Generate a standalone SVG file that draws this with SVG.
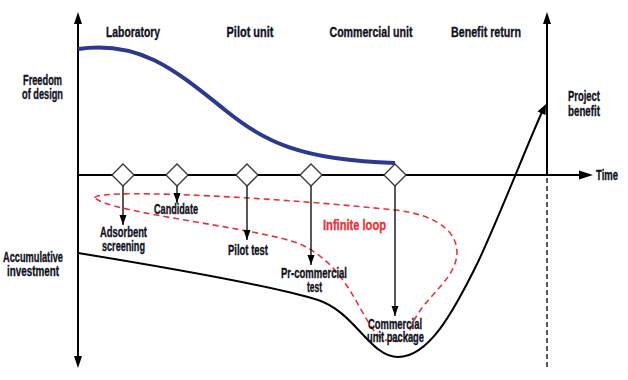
<svg xmlns="http://www.w3.org/2000/svg" width="628" height="380" viewBox="0 0 628 380">
  <style>
    text { font-family: "Liberation Sans", Arial, sans-serif; font-weight: bold; font-size: 15px; fill: #111122; stroke: #111122; stroke-width: 0.35; }
    .m { text-anchor: middle; }
    .red { fill: #e8323a; stroke: #e8323a; }
    .axis { stroke: #000; stroke-width: 2; fill: none; }
    .drop { stroke: #000; stroke-width: 1.3; fill: none; marker-end: url(#ah); }
    .dia { fill: #fff; stroke: #333; stroke-width: 1.3; }
  </style>
  <defs>
    <marker id="ah" viewBox="0 0 10 10" refX="10" refY="5" markerWidth="10" markerHeight="10" markerUnits="userSpaceOnUse" orient="auto">
      <path d="M0,1.5 L10,5 L0,8.5 Z" fill="#000"/>
    </marker>
  </defs>

  <g id="connectors">
    <line class="axis" x1="78" y1="22" x2="78" y2="357"/>
    <path d="M78,12 L74,24 L82,24 Z" fill="#000"/>
    <path d="M78,368 L74,356 L82,356 Z" fill="#000"/>
    <line class="axis" x1="78" y1="175" x2="582" y2="175"/>
    <path d="M593,175 L579,170.5 L579,179.5 Z" fill="#000"/>
    <line class="axis" x1="547" y1="22" x2="547" y2="175" stroke-width="1.5"/>
    <path d="M547,12 L543,24 L551,24 Z" fill="#000"/>
    <line x1="547" y1="178" x2="547" y2="368" stroke="#000" stroke-width="1.3" stroke-dasharray="5,3"/>

    <path d="M78,49 C140,40 175,70 225,110 C265,142 300,160 395,163" fill="none" stroke="#2b3990" stroke-width="4"/>

    <path d="M78,253 C170,268 270,285 318,300 C355,312 370,357 398,357 C428,357 452,315 478,262 C500,215 525,150 542,112" fill="none" stroke="#000" stroke-width="2"/>
    <path d="M546,104 L537.5,111.5 L545.5,115 Z" fill="#000"/>

    <path d="M95,198 C92,189 250,195 395,210 C440,215 462,235 456,260 C450,285 420,300 410,330 C405,345 385,345 375,332 C355,305 345,265 300,244 C260,228 110,213 95,198 Z" fill="none" stroke="#e8323a" stroke-width="1.6" stroke-dasharray="6,4"/>

    <line class="drop" x1="123" y1="186" x2="123" y2="225"/>
    <line class="drop" x1="177" y1="186" x2="177" y2="203"/>
    <line class="drop" x1="247" y1="186" x2="247" y2="240"/>
    <line class="drop" x1="311" y1="186" x2="311" y2="265"/>
    <line class="drop" x1="395" y1="186" x2="395" y2="316"/>
  </g>

  <g id="milestone-1"><path class="dia" d="M123,164 L134,175 L123,186 L112,175 Z"/></g>
  <g id="milestone-2"><path class="dia" d="M177,164 L188,175 L177,186 L166,175 Z"/></g>
  <g id="milestone-3"><path class="dia" d="M247,164 L258,175 L247,186 L236,175 Z"/></g>
  <g id="milestone-4"><path class="dia" d="M311,164 L322,175 L311,186 L300,175 Z"/></g>
  <g id="milestone-5"><path class="dia" d="M395,164 L406,175 L395,186 L384,175 Z"/></g>

  <g id="phase-labels">
    <text class="m" x="133" y="37" textLength="54" lengthAdjust="spacingAndGlyphs">Laboratory</text>
    <text class="m" x="250" y="37" textLength="47" lengthAdjust="spacingAndGlyphs">Pilot unit</text>
    <text class="m" x="371" y="37" textLength="83" lengthAdjust="spacingAndGlyphs">Commercial unit</text>
    <text class="m" x="486" y="37" textLength="70" lengthAdjust="spacingAndGlyphs">Benefit return</text>
  </g>

  <g id="axis-labels">
    <text class="m" x="42.5" y="85" textLength="39" lengthAdjust="spacingAndGlyphs">Freedom</text>
    <text class="m" x="42.5" y="99" textLength="41" lengthAdjust="spacingAndGlyphs">of design</text>
    <text class="m" x="33" y="262" textLength="60" lengthAdjust="spacingAndGlyphs">Accumulative</text>
    <text class="m" x="33" y="276" textLength="52" lengthAdjust="spacingAndGlyphs">investment</text>
    <text x="568" y="101" textLength="32" lengthAdjust="spacingAndGlyphs">Project</text>
    <text x="568" y="116" textLength="32" lengthAdjust="spacingAndGlyphs">benefit</text>
    <text x="596" y="180" textLength="22" lengthAdjust="spacingAndGlyphs">Time</text>
  </g>

  <g id="adsorbent-screening">
    <text class="m" x="123.5" y="237" textLength="47" lengthAdjust="spacingAndGlyphs">Adsorbent</text>
    <text class="m" x="123.5" y="251" textLength="43" lengthAdjust="spacingAndGlyphs">screening</text>
  </g>
  <g id="candidate"><text class="m" x="176" y="214" textLength="44" lengthAdjust="spacingAndGlyphs">Candidate</text></g>
  <g id="pilot-test"><text class="m" x="248" y="255" textLength="40" lengthAdjust="spacingAndGlyphs">Pilot test</text></g>
  <g id="pr-commercial-test">
    <text class="m" x="314" y="278" textLength="66" lengthAdjust="spacingAndGlyphs">Pr-commercial</text>
    <text class="m" x="314.5" y="292" textLength="15" lengthAdjust="spacingAndGlyphs">test</text>
  </g>
  <g id="commercial-unit-package">
    <text class="m" x="395" y="329" textLength="54" lengthAdjust="spacingAndGlyphs">Commercial</text>
    <text class="m" x="395.5" y="342" textLength="57" lengthAdjust="spacingAndGlyphs">unit package</text>
  </g>
  <g id="infinite-loop"><text class="m red" x="354.5" y="230" textLength="63" lengthAdjust="spacingAndGlyphs">Infinite loop</text></g>
</svg>
